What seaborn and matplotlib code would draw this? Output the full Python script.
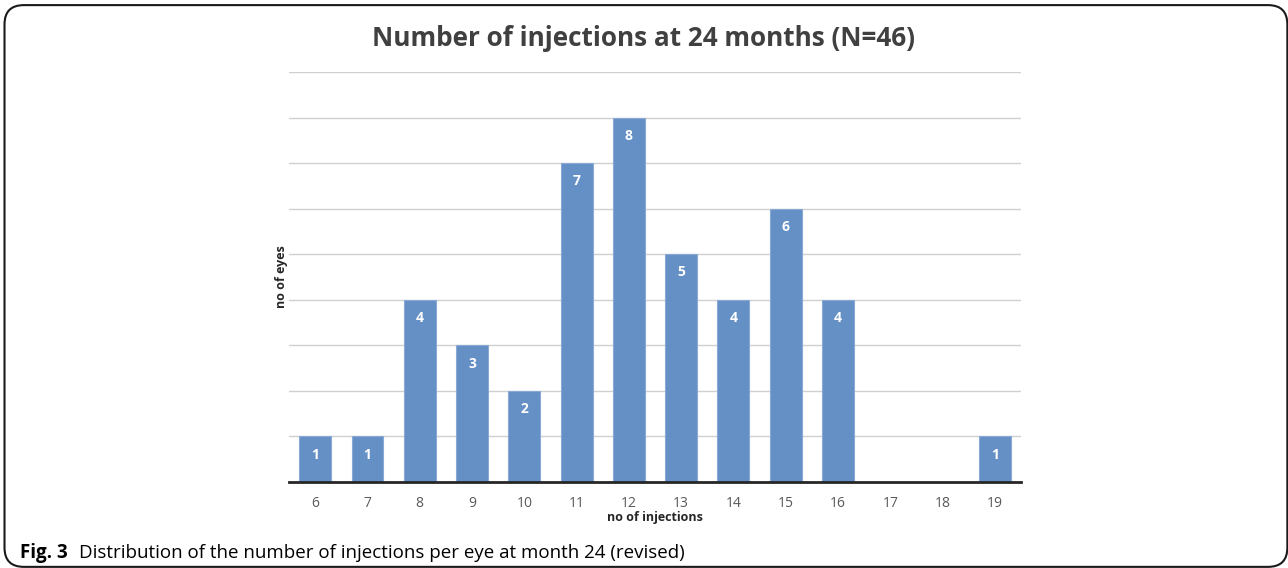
import matplotlib
matplotlib.use("Agg")
import matplotlib.pyplot as plt
import seaborn as sns
import pandas as pd
from matplotlib.patches import FancyBboxPatch

# === Data ===
injections = ["6", "7", "8", "9", "10", "11", "12", "13", "14", "15", "16", "17", "18", "19"]
eyes = [1, 1, 4, 3, 2, 7, 8, 5, 4, 6, 4, 0, 0, 1]

df = pd.DataFrame({"injections": injections, "eyes": eyes})

sns.set_theme(style="white")
plt.rcParams["font.family"] = ["Open Sans", "DejaVu Sans"]

fig = plt.figure(figsize=(12.88, 5.68), dpi=100)
ax = fig.add_axes([0.2244, 0.1514, 0.5683, 0.7218])

bar_color = "#6590c6"
sns.barplot(data=df, x="injections", y="eyes", order=injections, color=bar_color,
            width=0.61, saturation=1, edgecolor="#8aaad6", linewidth=0.8, ax=ax, zorder=3)

ax.set_ylim(0, 9)
ax.set_xlim(-0.5, len(injections) - 0.5)
ax.set_yticks(range(1, 10))
ax.set_yticklabels([])
ax.tick_params(axis="y", length=0)
ax.tick_params(axis="x", length=0, labelsize=10, labelcolor="#595959", pad=10)
ax.grid(axis="y", color="#d0d0d0", linewidth=1, zorder=0)
for s in ["top", "right", "left"]:
    ax.spines[s].set_visible(False)
ax.spines["bottom"].set_color("#262626")
ax.spines["bottom"].set_linewidth(2)
ax.spines["bottom"].set_zorder(4)

# value labels inside bars
for i, v in enumerate(eyes):
    if v > 0:
        ax.text(i, v - 0.4, str(v), ha="center", va="center", color="white",
                fontsize=10, fontweight="bold", zorder=5)

ax.set_xlabel("no of injections", fontsize=9, fontweight="bold", color="#262626", labelpad=0)
ax.set_ylabel("no of eyes", fontsize=9, fontweight="bold", color="#262626", labelpad=-3)

fig.text(0.5, 0.933, "Number of injections at 24 months (N=46)", ha="center", va="center",
         fontsize=18.8, fontweight="bold", color="#404040")

# caption
fig.text(0.0155, 0.018, "Fig. 3", ha="left", va="baseline", fontsize=13.5,
         fontweight="bold", color="black")
fig.text(0.0613, 0.018, "Distribution of the number of injections per eye at month 24 (revised)",
         ha="left", va="baseline", fontsize=13.5, color="black")

# rounded frame
frame = FancyBboxPatch((0.0035, 0.002), 0.996, 0.989, boxstyle="round,pad=0,rounding_size=0.015",
                       transform=fig.transFigure, fill=False, edgecolor="#1a1a1a",
                       linewidth=1.5, mutation_aspect=1288 / 568)
fig.patches.append(frame)

fig.savefig("out.png", dpi=100)
